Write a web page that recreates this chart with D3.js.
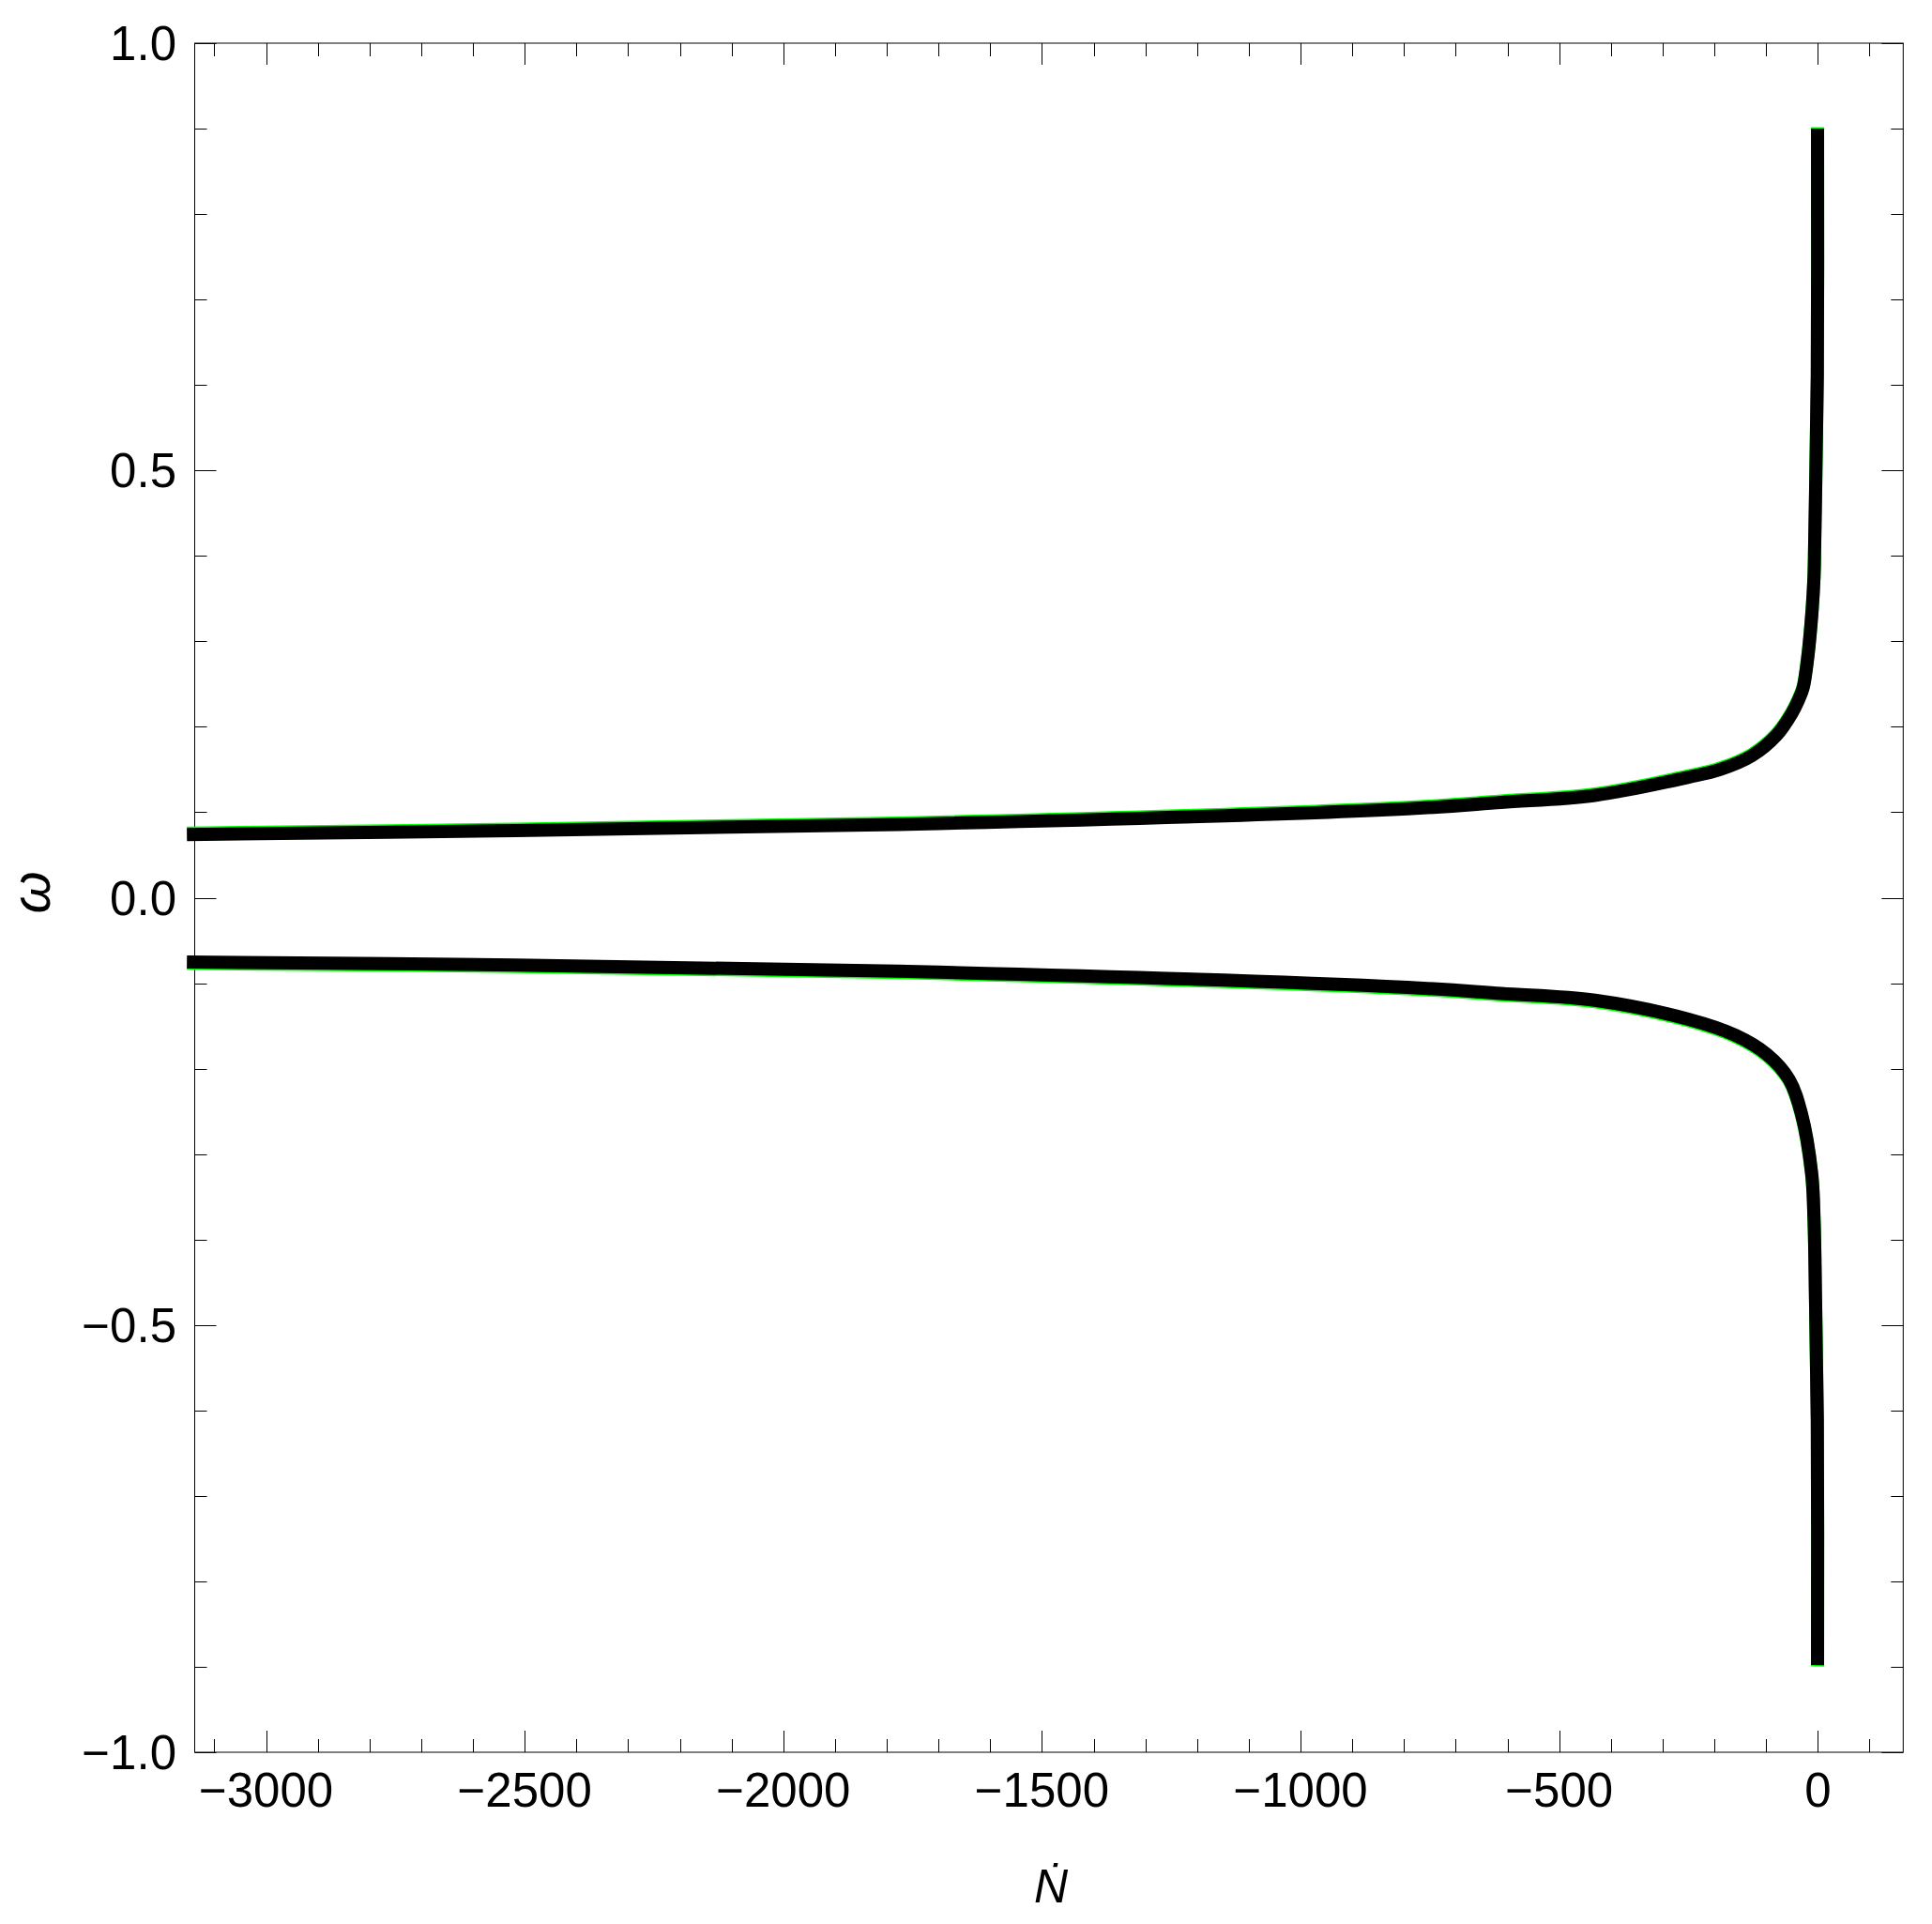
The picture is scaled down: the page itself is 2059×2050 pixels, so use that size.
<!DOCTYPE html>
<html>
<head>
<meta charset="utf-8">
<script src="https://cdn.jsdelivr.net/npm/d3@7"></script>
<style>
  body { margin: 0; background: #fff; }
  svg text { font-family: "Liberation Sans", Arial, sans-serif; fill: #000; }
</style>
</head>
<body>
<div id="chart"></div>
<script>
// values: Ndot on x, omega on y
var upperN =     [-3153, -2517, -1700, -793, -612, -431, -250, -189, -128, -80, -50, -37.6, -28.5, -19.4, -11, -7.4, -6.2, -4.4, -1.0, -0.6];
var upperOmega = [0.0739, 0.0785, 0.0868, 0.1041, 0.1115, 0.1197, 0.141, 0.150, 0.166, 0.190, 0.216, 0.231, 0.2454, 0.2817, 0.337, 0.375, 0.41, 0.472, 0.611, 0.900];
var lowerN =     [-3153, -2517, -1700, -793, -612, -431, -250, -159, -99, -55.7, -31.6, -12, -7.4, -4.4, -1.0, -0.6];
var lowerOmega = [-0.0752, -0.0787, -0.0871, -0.1049, -0.112, -0.120, -0.1422, -0.161, -0.183, -0.2125, -0.253, -0.3224, -0.375, -0.472, -0.611, -0.898];

var xTicks = [-3000, -2500, -2000, -1500, -1000, -500, 0];
var yTicks = [-1.0, -0.5, 0.0, 0.5, 1.0];

var width = 2059, height = 2050;
// note: "top" is a reserved window global, so use plot* names
var plotLeft = 207.5, plotRight = 2028.3, plotTop = 46, plotBottom = 1867;

var svg = d3.select('#chart').append('svg')
  .attr('width', width)
  .attr('height', height);

var x = d3.scaleLinear().domain([-3138, 165]).range([plotLeft, plotRight]);
var y = d3.scaleLinear().domain([-1, 1]).range([plotBottom, plotTop]);

//minor ticks every 100 / 0.1
var xMinor = d3.range(-3100, 200, 100);
var yMinor = d3.range(-10, 11).map(function(d) { return d / 10; });

function minus(s) { return s.replace('-', '\u2212'); }

var axes = svg.append('g').attr('stroke', '#000').attr('stroke-width', 1).attr('fill', 'none');

//ticks on all four sides, pointing in
xMinor.forEach(function(v) {
  var major = xTicks.indexOf(v) >= 0;
  var len = major ? 23 : 14;
  var px = Math.round(x(v)) + 0.5;
  axes.append('line').attr('x1', px).attr('x2', px).attr('y1', plotBottom).attr('y2', plotBottom - len);
  axes.append('line').attr('x1', px).attr('x2', px).attr('y1', plotTop).attr('y2', plotTop + len);
});
yMinor.forEach(function(v) {
  var major = Math.abs(v * 2 - Math.round(v * 2)) < 1e-9;
  var len = major ? 23 : 13;
  var py = Math.round(y(v)) + 0.5;
  axes.append('line').attr('y1', py).attr('y2', py).attr('x1', plotLeft).attr('x2', plotLeft + len);
  axes.append('line').attr('y1', py).attr('y2', py).attr('x1', plotRight).attr('x2', plotRight - len);
});

axes.append('rect')
  .attr('x', plotLeft).attr('y', plotTop)
  .attr('width', plotRight - plotLeft).attr('height', plotBottom - plotTop);

//tick labels
svg.selectAll('.xlab')
  .data(xTicks)
  .enter().append('text')
    .attr('class', 'xlab')
    .attr('x', function(d) { return x(d); })
    .attr('y', 1925)
    .attr('text-anchor', 'middle')
    .style('font-size', '51px')
    .text(function(d) { return minus(String(d)); });

svg.selectAll('.ylab')
  .data(yTicks)
  .enter().append('text')
    .attr('class', 'ylab')
    .attr('x', 188)
    .attr('y', function(d) { return y(d) + 18; })
    .attr('text-anchor', 'end')
    .style('font-size', '51px')
    .text(function(d) { return minus(d.toFixed(1)); });

//axis titles
svg.append('text')
  .attr('x', 1120)
  .attr('y', 2027)
  .attr('text-anchor', 'middle')
  .style('font-size', '50px')
  .style('font-style', 'italic')
  .text('\u1E44');

svg.append('text')
  .attr('transform', 'translate(53,951) rotate(-90)')
  .attr('text-anchor', 'middle')
  .style('font-size', '58px')
  .style('font-style', 'italic')
  .text('\u03C9');

//curves
var line = d3.line()
  .x(function(d) { return x(d[0]); })
  .y(function(d) { return y(d[1]); })
  .curve(d3.curveCatmullRom.alpha(0.5));

var upper = upperN.map(function(n, i) { return [n, upperOmega[i]]; });
var lower = lowerN.map(function(n, i) { return [n, lowerOmega[i]]; });

//green copy peeking out from under the black line
svg.append('path').datum(upper).attr('d', line)
  .attr('fill', 'none').attr('stroke', '#00ff00').attr('stroke-width', 14)
  .attr('transform', 'translate(0,-1.5)');
svg.append('path').datum(lower).attr('d', line)
  .attr('fill', 'none').attr('stroke', '#00ff00').attr('stroke-width', 14)
  .attr('transform', 'translate(0,1.5)');

[upper, lower].forEach(function(s) {
  svg.append('path').datum(s).attr('d', line)
    .attr('fill', 'none')
    .attr('stroke', '#000')
    .attr('stroke-width', 14);
});
</script>
</body>
</html>
